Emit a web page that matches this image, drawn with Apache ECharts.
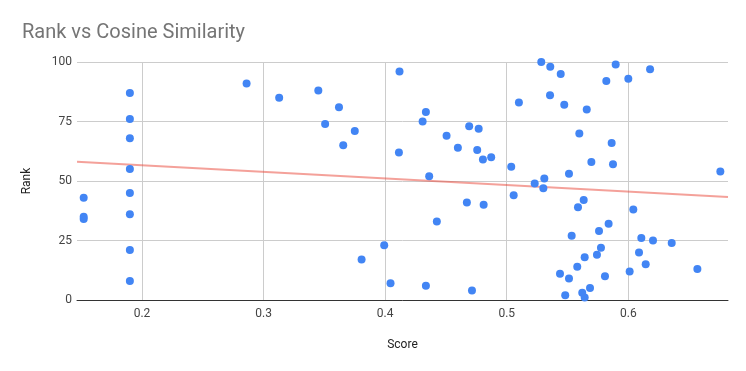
<!DOCTYPE html>
<html>
<head>
<meta charset="utf-8">
<script src="https://cdn.jsdelivr.net/npm/echarts@6/dist/echarts.min.js"></script>
<style>html,body{margin:0;padding:0;background:#fff}#c{width:746px;height:371px}</style>
</head>
<body>
<div id="c"></div>
<script>
// Data (Score = cosine similarity, Rank)
const score = [
  0.5641,0.5481,0.5621,0.4714,0.5685,0.4335,0.4044,0.190,0.5512,0.5808,0.5438,0.6011,0.6568,0.558,0.6143,
  0.3806,0.5641,0.5742,0.6088,0.190,0.5775,0.3992,0.6357,0.6203,0.6107,0.5534,
  0.5759,
  0.5838,0.4425,0.152,0.152,0.190,
  0.6041,0.5586,0.481,0.4672,0.5633,0.152,0.5057,0.190,
  0.5301,
  0.523,
  0.5309,0.4362,0.5512,0.6757,0.190,0.5037,0.5874,0.5696,0.4804,0.4872,
  0.4113,0.4757,0.4598,0.3655,0.5863,
  0.190,0.4505,0.5597,0.375,0.4769,0.4691,0.3506,0.4308,0.190,
  0.4335,0.5658,0.362,0.5473,0.51,
  0.3128,0.5356,0.190,0.345,
  0.286,0.5819,0.6,
  0.5444,0.4118,0.6179,0.5358,0.5896,0.5284
];
const rank = [
  1,2,3,4,5,6,7,8,9,10,11,12,13,14,15,
  17,18,19,20,21,22,23,24,25,26,27,
  29,
  32,33,34,35,36,
  38,39,40,41,42,43,44,45,
  47,
  49,
  51,52,53,54,55,56,57,58,59,60,
  62,63,64,65,66,
  68,69,70,71,72,73,74,75,76,
  79,80,81,82,83,
  85,86,87,88,
  91,92,93,
  95,96,97,98,99,100
];
const xTicks = [0.2, 0.3, 0.4, 0.5, 0.6];
const yTicks = [0, 25, 50, 75, 100];
const xMin = 0.1465, xMax = 0.682;

const points = score.map((s, i) => [s, rank[i]]);
// least squares trendline
const n = points.length;
let sx = 0, sy = 0, sxx = 0, sxy = 0;
points.forEach(([x, y]) => { sx += x; sy += y; sxx += x * x; sxy += x * y; });
const slope = (n * sxy - sx * sy) / (n * sxx - sx * sx);
const icpt = (sy - slope * sx) / n;
const trend = [[xMin, icpt + slope * xMin], [xMax, icpt + slope * xMax]];

const chart = echarts.init(document.getElementById('c'), null, {renderer: 'canvas'});
chart.setOption({
  backgroundColor: '#fff',
  animation: false,
  textStyle: {fontFamily: 'Roboto'},
  title: {
    text: 'Rank vs Cosine Similarity',
    left: 17, top: 18,
    textStyle: {fontFamily: 'Roboto', fontSize: 20, fontWeight: 'normal', color: '#757575'}
  },
  grid: {left: 77, right: 18, top: 62, bottom: 71},
  xAxis: {
    type: 'value', min: xMin, max: xMax,
    name: 'Score', nameLocation: 'middle', nameGap: 39,
    nameTextStyle: {fontFamily: 'Roboto', fontSize: 12, color: '#222'},
    axisLine: {show: true, onZero: false, lineStyle: {color: '#333', width: 1}},
    axisTick: {show: false, customValues: xTicks},
    axisLabel: {customValues: xTicks, color: '#444', fontSize: 12, margin: 8, formatter: v => String(v)},
    splitLine: {show: true, lineStyle: {color: '#ccc', width: 1}}
  },
  yAxis: {
    type: 'value', min: yTicks[0], max: yTicks[yTicks.length - 1], interval: 25,
    name: 'Rank', nameLocation: 'middle', nameGap: 44, nameRotate: 90,
    nameTextStyle: {fontFamily: 'Roboto', fontSize: 12, color: '#222'},
    axisLine: {show: false}, axisTick: {show: false},
    axisLabel: {color: '#444', fontSize: 12, margin: 5},
    splitLine: {show: true, lineStyle: {color: '#ccc', width: 1}}
  },
  series: [
    {
      type: 'line', data: trend, symbol: 'none', silent: true, z: 1,
      lineStyle: {color: '#ea4335', width: 2, opacity: 0.5}
    },
    {
      type: 'scatter', data: points, symbolSize: 8, z: 2,
      itemStyle: {color: '#4285f4', opacity: 1}
    }
  ]
});
</script>
</body>
</html>
